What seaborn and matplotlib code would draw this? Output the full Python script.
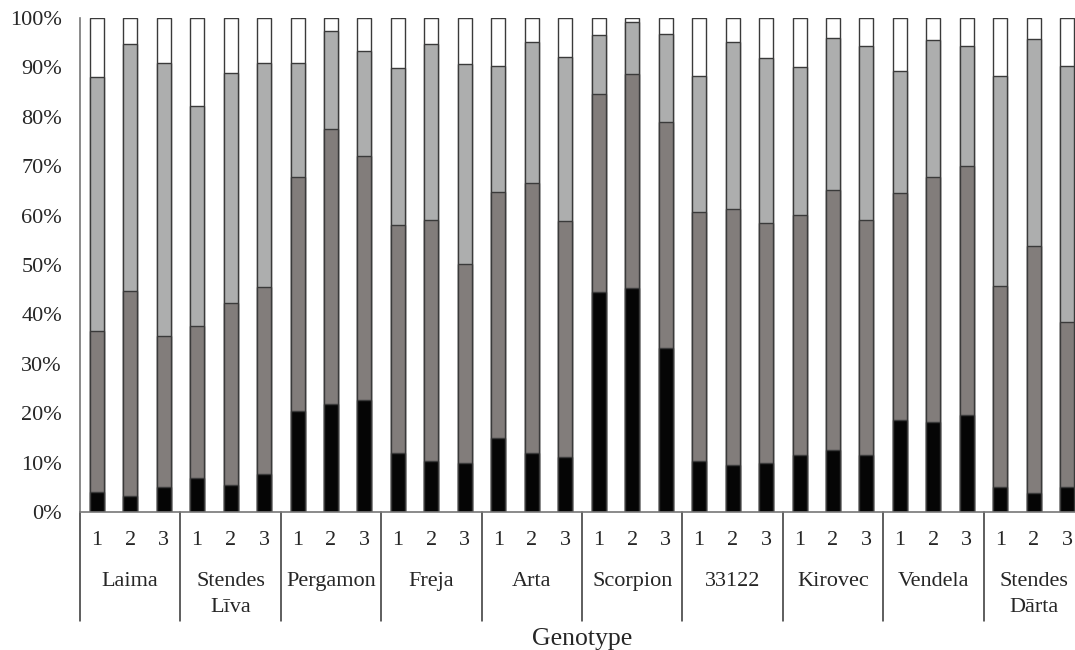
import pandas as pd
import matplotlib
matplotlib.use("Agg")
import matplotlib.pyplot as plt
import seaborn as sns

# genotypes, 3 replicates each
genotypes = ["Laima", "Stendes\nLīva", "Pergamon", "Freja", "Arta",
             "Scorpion", "33122", "Kirovec", "Vendela", "Stendes\nDārta"]
replicates = ["1", "2", "3"]

# share of each class (%), bottom to top; the top (white) class is the rest up to 100
class_black = [4.0, 3.3, 5.1, 6.8, 5.4, 7.6, 20.5, 21.9, 22.6, 11.9, 10.4, 10.0,
               15.0, 11.9, 11.2, 44.6, 45.4, 33.1, 10.4, 9.5, 10.0, 11.5, 12.6, 11.5,
               18.6, 18.3, 19.6, 5.1, 3.8, 5.1]
class_dark = [32.6, 41.5, 30.6, 30.9, 37.0, 37.9, 47.4, 55.6, 49.5, 46.1, 48.8, 40.3,
              49.7, 54.8, 47.8, 40.0, 43.3, 45.9, 50.3, 51.8, 48.5, 48.6, 52.6, 47.7,
              45.9, 49.6, 50.4, 40.7, 50.1, 33.3]
class_light = [51.4, 49.9, 55.1, 44.4, 46.5, 45.3, 22.9, 19.9, 21.3, 31.8, 35.5, 40.3,
               25.6, 28.4, 33.2, 12.0, 10.5, 17.8, 27.6, 33.8, 33.5, 29.9, 30.8, 35.2,
               24.8, 27.7, 24.4, 42.5, 41.9, 51.9]


def main():
    rows = []
    i = 0
    for g in genotypes:
        for r in replicates:
            rows.append({"key": f"{g}_{r}", "genotype": g, "rep": r,
                         "black": class_black[i], "dark": class_dark[i],
                         "light": class_light[i]})
            i += 1
    df = pd.DataFrame(rows)
    df["cum_black"] = df["black"]
    df["cum_dark"] = df["cum_black"] + df["dark"]
    df["cum_light"] = df["cum_dark"] + df["light"]
    df["cum_white"] = 100.0

    sns.set_style("white")
    plt.rcParams["font.family"] = ["Liberation Serif", "DejaVu Serif"]

    fig = plt.figure(figsize=(10.75, 6.5), dpi=100)
    ax = fig.add_axes([80 / 1075, 1 - 512 / 650, 1004 / 1075, 494 / 650])

    # stacked look: draw cumulative bars from the tallest down
    layers = [("cum_white", "#ffffff"), ("cum_light", "#adaeae"),
              ("cum_dark", "#837d7a"), ("cum_black", "#050505")]
    for col, color in layers:
        sns.barplot(data=df, x="key", y=col, color=color, width=0.42,
                    edgecolor="#3a3a3a", linewidth=1.0, errorbar=None, ax=ax)

    fs = 16
    ax.set_xlim(-0.5, len(df) - 0.5)
    ax.set_ylim(0, 100)
    ax.set_yticks(range(0, 101, 10))
    ax.set_yticklabels([f"{v}%" for v in range(0, 101, 10)], fontsize=fs)
    ax.tick_params(axis="y", length=0, pad=13)
    ax.set_xticks([])
    ax.set_xlabel("")
    ax.set_ylabel("")
    for side in ["top", "right"]:
        ax.spines[side].set_visible(False)
    for side in ["left", "bottom"]:
        ax.spines[side].set_color("#777777")
        ax.spines[side].set_linewidth(1.2)

    # hierarchical x labels
    trans = ax.get_xaxis_transform()
    for j, key in enumerate(df["key"]):
        ax.text(j, -0.0587, df["rep"][j], transform=trans, ha="center",
                va="center", fontsize=fs)
    for k, g in enumerate(genotypes):
        center = 3 * k + 1
        for n, line in enumerate(g.split("\n")):
            ax.text(center, -0.1417 - n * 0.0526, line, transform=trans,
                    ha="center", va="center", fontsize=fs)
    for k in range(len(genotypes) + 1):
        ax.plot([3 * k - 0.5, 3 * k - 0.5], [0, -0.2206], transform=trans,
                color="#333333", lw=1.1, clip_on=False)

    ax.text(0.5, -0.257, "Genotype", transform=ax.transAxes, ha="center",
            va="center", fontsize=18.5)

    fig.savefig("out.png", dpi=100)


if __name__ == "__main__":
    main()
